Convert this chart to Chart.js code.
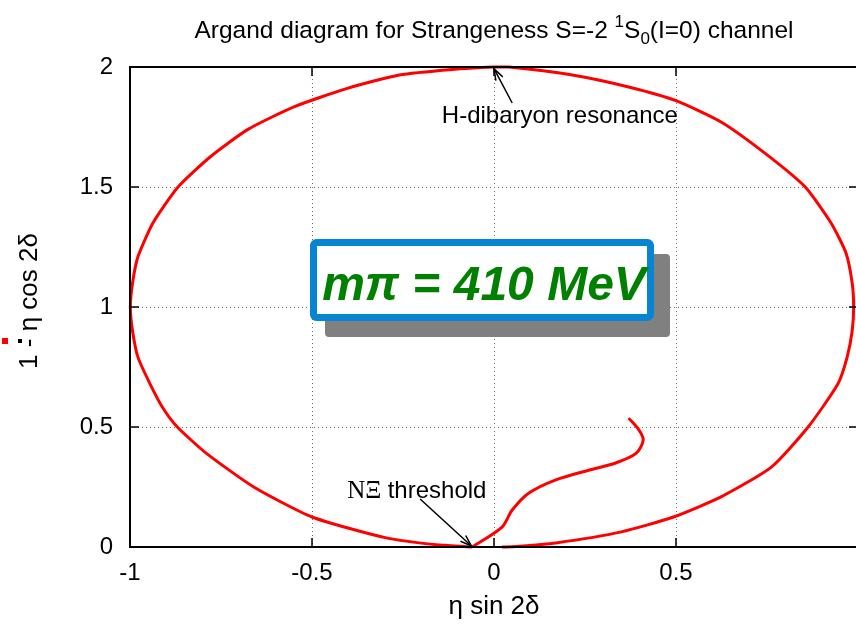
<!DOCTYPE html>
<html>
<head>
<meta charset="utf-8">
<script src="https://cdn.jsdelivr.net/npm/chart.js@4.4.1/dist/chart.umd.min.js"></script>
<style>
  html, body { margin: 0; padding: 0; background: #fff; overflow: hidden; }
  #wrap { width: 870px; height: 624px; }
</style>
</head>
<body>
<div id="wrap"><canvas id="myChart" width="870" height="624"></canvas></div>
<script>
// axis ticks
const xTicks = [-1, -0.5, 0, 0.5, 1];
const yTicks = [0, 0.5, 1, 1.5, 2];

// outer loop of the argand curve (threshold -> left -> top -> right -> bottom)
const circleX = [-0.06, -0.15, -0.296, -0.5, -0.66, -0.79, -0.87, -0.91, -0.945, -0.978, -0.993, -0.999, -0.993, -0.978, -0.937, -0.868, -0.78, -0.676, -0.548, -0.405, -0.26, -0.115, 0, 0.04, 0.215, 0.37, 0.5, 0.625, 0.745, 0.855, 0.926, 0.967, 0.984, 0.988, 0.984, 0.97, 0.945, 0.863, 0.762, 0.625, 0.493, 0.35, 0.17, 0.06, 0.022];
const circleY = [0, 0.008, 0.038, 0.125, 0.25, 0.39, 0.5, 0.58, 0.68, 0.79, 0.9, 1.0, 1.1, 1.21, 1.35, 1.5, 1.625, 1.74, 1.835, 1.91, 1.967, 1.99, 2, 2, 1.967, 1.917, 1.86, 1.77, 1.64, 1.5, 1.35, 1.225, 1.1, 1.0, 0.9, 0.79, 0.68, 0.5, 0.333, 0.21, 0.125, 0.063, 0.017, 0.002, 0];

// inner branch from threshold up to the hook
const innerX = [-0.06, 0.022, 0.05, 0.096, 0.17, 0.26, 0.334, 0.39, 0.41, 0.397, 0.37];
const innerY = [0, 0.083, 0.154, 0.225, 0.28, 0.32, 0.35, 0.39, 0.446, 0.49, 0.537];

const circlePts = circleX.map((x, i) => ({ x: x, y: circleY[i] }));
const innerPts = innerX.map((x, i) => ({ x: x, y: innerY[i] }));

const FONT = '"Liberation Sans", Arial, sans-serif';

function arrow(ctx, x1, y1, x2, y2) {
    ctx.beginPath();
    ctx.moveTo(x1, y1);
    ctx.lineTo(x2, y2);
    ctx.stroke();
    const a = Math.atan2(y2 - y1, x2 - x1);
    const L = 12, w = 0.33;
    ctx.beginPath();
    ctx.moveTo(x2 - L * Math.cos(a - w), y2 - L * Math.sin(a - w));
    ctx.lineTo(x2, y2);
    ctx.lineTo(x2 - L * Math.cos(a + w), y2 - L * Math.sin(a + w));
    ctx.stroke();
}

// frame, inward ticks, labels and the mass box
const decor = {
    id: 'decor',
    afterDatasetsDraw(chart) {
        const ctx = chart.ctx;
        const xs = chart.scales.x, ys = chart.scales.y;
        const a = chart.chartArea;
        ctx.save();
        ctx.strokeStyle = '#000';
        ctx.lineWidth = 2;
        ctx.beginPath();
        ctx.moveTo(a.right, a.top); ctx.lineTo(a.left, a.top);
        ctx.lineTo(a.left, a.bottom); ctx.lineTo(a.right, a.bottom);
        ctx.stroke();
        ctx.lineWidth = 1.5;
        xTicks.forEach(v => {
            const p = xs.getPixelForValue(v);
            ctx.beginPath();
            ctx.moveTo(p, a.bottom); ctx.lineTo(p, a.bottom - 9);
            ctx.moveTo(p, a.top); ctx.lineTo(p, a.top + 9);
            ctx.stroke();
        });
        yTicks.forEach(v => {
            const p = ys.getPixelForValue(v);
            ctx.beginPath();
            ctx.moveTo(a.left, p); ctx.lineTo(a.left + 9, p);
            ctx.moveTo(a.right, p); ctx.lineTo(a.right - 9, p);
            ctx.stroke();
        });

        // annotations
        ctx.fillStyle = '#000';
        ctx.lineWidth = 1.5;
        arrow(ctx, xs.getPixelForValue(0.05), ys.getPixelForValue(1.85), xs.getPixelForValue(0), ys.getPixelForValue(1.993));
        ctx.font = '24px ' + FONT;
        ctx.textAlign = 'center';
        ctx.textBaseline = 'alphabetic';
        ctx.fillText('H-dibaryon resonance', xs.getPixelForValue(0.181), ys.getPixelForValue(1.767));

        arrow(ctx, xs.getPixelForValue(-0.203), ys.getPixelForValue(0.2), xs.getPixelForValue(-0.062), ys.getPixelForValue(0.004));
        ctx.textAlign = 'left';
        const tx = xs.getPixelForValue(-0.403), ty = ys.getPixelForValue(0.206);
        ctx.font = '25px "Liberation Serif", "DejaVu Serif", serif';
        ctx.fillText('NΞ', tx, ty);
        const w1 = ctx.measureText('NΞ ').width;
        ctx.font = '24px ' + FONT;
        ctx.fillText('threshold', tx + w1, ty);

        // mass box
        ctx.fillStyle = '#808080';
        ctx.beginPath();
        ctx.roundRect(325, 254, 345, 83, 4);
        ctx.fill();
        ctx.fillStyle = '#fff';
        ctx.fillRect(313, 242, 338, 76);
        ctx.strokeStyle = '#0784d2';
        ctx.lineWidth = 7;
        ctx.beginPath();
        ctx.roundRect(313.5, 242.5, 337, 75, 3);
        ctx.stroke();
        ctx.fillStyle = '#008000';
        ctx.font = 'italic bold 48px ' + FONT;
        ctx.textAlign = 'center';
        ctx.fillText('m\u03C0 = 410 MeV', 484, 300);

        // title
        ctx.fillStyle = '#000';
        ctx.textAlign = 'left';
        const parts = [
            ['Argand diagram for Strangeness S=-2 ', 24.5, 0],
            ['1', 17, -11],
            ['S', 24.5, 0],
            ['0', 17, 6],
            ['(I=0) channel', 24.5, 0]
        ];
        let tw = 0;
        parts.forEach(p => { ctx.font = p[1] + 'px ' + FONT; tw += ctx.measureText(p[0]).width; });
        let cx = 494 - tw / 2;
        parts.forEach(p => {
            ctx.font = p[1] + 'px ' + FONT;
            ctx.fillText(p[0], cx, 38 + p[2]);
            cx += ctx.measureText(p[0]).width;
        });

        // axis titles
        ctx.font = '26px ' + FONT;
        ctx.textAlign = 'center';
        ctx.fillText('\u03B7 sin 2\u03B4', xs.getPixelForValue(0), 614);
        ctx.save();
        ctx.translate(37, 301);
        ctx.rotate(-Math.PI / 2);
        ctx.fillText('1 - \u03B7 cos 2\u03B4', 0, 0);
        ctx.restore();
        ctx.fillStyle = '#000';
        ctx.fillRect(18, 339, 4, 4);
        ctx.fillStyle = '#ff0000';
        ctx.fillRect(2, 338, 6, 6);
        ctx.restore();
    }
};

const gridStyle = (edges) => ({
    drawTicks: false,
    color: c => (c.tick && edges.includes(c.tick.value)) ? 'rgba(0,0,0,0)' : '#707070',
    lineWidth: 1
});

const ctx = document.getElementById('myChart');
const myChart = new Chart(ctx, {
    type: 'scatter',
    data: {
        datasets: [{
            label: 'outer',
            data: circlePts,
            showLine: true,
            borderColor: '#ff0000',
            borderWidth: 3,
            pointRadius: 0,
            tension: 0.2,
            clip: 2
        }, {
            label: 'inner',
            data: innerPts,
            showLine: true,
            borderColor: '#ff0000',
            borderWidth: 3,
            pointRadius: 0,
            tension: 0.3,
            clip: 2
        }]
    },
    options: {
        responsive: false,
        animation: false,
        layout: { padding: { top: 67, right: 10, left: 0, bottom: 0 } },
        plugins: {
            legend: { display: false },
            tooltip: { enabled: false }
        },
        scales: {
            x: {
                type: 'linear',
                min: -1,
                max: 1,
                afterFit: s => { s.height = 77; },
                afterBuildTicks: s => { s.ticks = xTicks.map(v => ({ value: v })); },
                border: { display: false, dash: [1, 3] },
                grid: gridStyle([-1, 1]),
                ticks: {
                    padding: 12,
                    color: '#000',
                    font: { family: FONT, size: 24 },
                    callback: v => v === 1 ? '' : String(v)
                }
            },
            y: {
                type: 'linear',
                min: 0,
                max: 2,
                afterFit: s => { s.width = 130; },
                afterBuildTicks: s => { s.ticks = yTicks.map(v => ({ value: v })); },
                border: { display: false, dash: [1, 3] },
                grid: gridStyle([0, 2]),
                ticks: {
                    padding: 17,
                    color: '#000',
                    font: { family: FONT, size: 24 },
                    callback: v => String(v)
                }
            }
        }
    },
    plugins: [decor]
});
</script>
</body>
</html>
